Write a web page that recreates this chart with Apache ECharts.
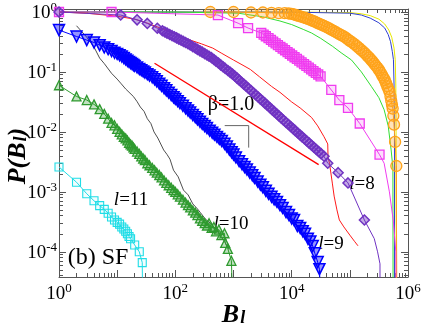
<!DOCTYPE html>
<html><head><meta charset="utf-8">
<script src="https://cdn.jsdelivr.net/npm/echarts@6/dist/echarts.min.js"></script>
<style>html,body{margin:0;padding:0;background:#fff}#c{width:423px;height:327px}</style>
</head><body><div id="c"></div>
<script>
// ---- data: [B_l, P(B_l)] ----
const l11 = [[1,2.6e-3],[2,1.45e-3],[3,9.3e-4],[4,7.1e-4],[5,5.9e-4],[6,5.1e-4],[7,4.4e-4],[8,3.8e-4],[9,3.4e-4],[10,3.1e-4],[11,2.9e-4],[12,2.6e-4],[13,2.4e-4],[14,2.2e-4],[15,2.0e-4],[16,1.8e-4],[17,1.65e-4],[20,1.3e-4],[24,1.0e-4],[27,6.6e-5],[28,1e-6]];
const l10 = [[1,0.060],[2,0.039],[3,0.034],[4,0.0288],[5,0.024],[6,0.020],[7,0.0166],[8,0.0141],[9,0.0129],[10,0.0112],[11,0.0100],[12,0.0091],[13,0.0083],[14,0.0078],[15,0.0072],[16,0.0066],[17,0.0062],[18,0.0059],[19,0.0055],[20,0.0052],[22,0.0047],[24,0.0043],[26,0.0039],[28,0.0036],[30,0.0034],[33,0.0030],[36,0.00278],[40,0.00251],[44,0.00229],[48,0.00209],[53,0.00191],[58,0.00174],[64,0.00155],[70,0.00141],[77,0.00129],[85,0.00117],[93,0.00107],[100,0.00100],[110,0.00091],[120,0.00083],[135,0.00074],[150,0.00066],[165,0.0006],[180,0.00055],[200,0.00049],[220,0.00045],[240,0.00041],[265,0.00036],[290,0.00033],[320,0.0003],[350,0.000275],[380,0.0003],[420,0.00025],[460,0.00026],[500,0.00022],[560,0.000235],[620,0.00019],[700,0.000204],[720,0.000141],[800,0.000112],[920,0.0000708],[1050,1e-6]];
const blackLine = [[2,0.59],[3,0.38],[4,0.26],[5,0.17],[6,0.138],[8,0.095],[10,0.076],[11.5,0.065],[14,0.052],[19,0.039],[22,0.032],[25,0.026],[29,0.022],[33,0.0166],[38,0.0138],[43,0.010],[50,0.0079],[63,0.005],[72,0.0042],[81,0.0035],[93,0.0023],[112,0.00178],[138,0.00107],[166,0.00089],[200,0.00063],[240,0.00052],[270,0.00045],[330,0.00035],[400,0.0003],[480,0.00025],[560,0.0002],[700,0.00015],[830,0.00011]];
const l9 = [[1,0.50],[2,0.39],[3,0.34],[4,0.31],[5,0.28],[6,0.257],[7,0.24],[8,0.224],[9,0.209],[10,0.20],[11,0.19],[12,0.181],[13,0.171],[14,0.162],[15,0.154],[16,0.147],[17,0.141],[18,0.136],[19,0.130],[20,0.126],[22,0.119],[24,0.112],[26,0.107],[28,0.102],[30,0.0975],[33,0.0918],[36,0.0871],[40,0.0815],[44,0.0757],[48,0.0698],[53,0.0637],[58,0.0586],[64,0.0535],[70,0.0493],[77,0.0452],[85,0.0412],[93,0.0379],[100,0.0355],[110,0.0326],[120,0.0302],[135,0.0272],[150,0.0248],[165,0.0228],[180,0.0211],[200,0.0191],[220,0.0176],[240,0.0162],[265,0.0148],[290,0.0136],[320,0.0125],[350,0.0116],[390,0.0105],[430,0.0097],[470,0.0090],[520,0.00826],[570,0.00764],[630,0.00702],[700,0.00635],[770,0.00569],[850,0.00507],[930,0.00457],[1000,0.0042],[1100,0.00376],[1250,0.00325],[1400,0.00289],[1550,0.0026],[1700,0.00236],[1900,0.0021],[2100,0.00189],[2300,0.00171],[2600,0.00149],[2900,0.00132],[3200,0.00119],[3600,0.00104],[4000,0.00093],[4500,0.00083],[5000,0.00075],[5600,0.00068],[6300,0.0006],[7000,0.00054],[8000,0.00046],[9000,0.00041],[10000,0.00036],[11000,0.00034],[12500,0.00027],[14000,0.00025],[15500,0.00022],[17000,0.0002],[19000,0.000165],[21000,0.000149],[23000,0.000125],[25000,0.0000946],[28000,0.0000676],[30000,0.0000513],[36000,1e-6]];
const l8 = [[1,1],[11.5,0.89],[22,0.74],[33,0.645],[49,0.537],[60,0.486],[66,0.464],[72,0.444],[80,0.422],[88,0.403],[96,0.386],[105,0.370],[115,0.353],[126,0.338],[138,0.323],[150,0.310],[165,0.295],[180,0.281],[200,0.264],[220,0.251],[240,0.238],[265,0.225],[290,0.214],[320,0.202],[350,0.192],[380,0.183],[420,0.173],[460,0.161],[500,0.151],[550,0.141],[600,0.1315],[660,0.122],[720,0.1145],[800,0.1057],[880,0.0984],[960,0.092],[1050,0.0855],[1150,0.0789],[1260,0.0729],[1380,0.0673],[1500,0.0627],[1650,0.0578],[1800,0.0536],[2000,0.0489],[2200,0.045],[2400,0.0417],[2650,0.0382],[2900,0.0353],[3200,0.0324],[3500,0.0299],[3800,0.0278],[4200,0.0255],[4600,0.0235],[5000,0.0218],[5500,0.0201],[6000,0.0186],[6600,0.0171],[7200,0.0158],[8000,0.0144],[8800,0.0133],[9600,0.0123],[10500,0.0114],[11500,0.0105],[12600,0.0097],[13800,0.00895],[15000,0.00834],[16500,0.00768],[18000,0.00713],[20000,0.0065],[22000,0.006],[24000,0.00556],[26500,0.0051],[29000,0.00472],[32000,0.00434],[36000,0.00392],[41700,0.0030],[63000,0.00209],[93000,0.00141],[178000,0.000339]];
const l8Tail = [[178000,0.000339],[263000,0.000166],[300000,0.0001],[330000,0.000063],[331000,1e-6]];
const redLine = [[1,1],[3,0.955],[10,0.85],[20,0.76],[32,0.66],[50,0.56],[80,0.47],[126,0.39],[180,0.34],[280,0.295],[440,0.25],[630,0.204],[1000,0.158],[1400,0.132],[1950,0.11],[2800,0.083],[4500,0.0575],[6300,0.0457],[10000,0.0316],[14000,0.0251],[22000,0.0174],[28000,0.0126],[36000,0.0083],[41700,0.0063],[42200,0.0038],[44700,0.003],[50000,0.0014],[53700,0.00085],[60000,0.0005],[66000,0.00034],[79000,0.00026],[100000,0.00019],[120000,0.00015],[138000,0.000126]];
const magentaSq = [[1,1],[8,1],[540,0.89],[1200,0.65],[1780,0.54],[3000,0.447],[3300,0.419],[3600,0.394],[4000,0.366],[4400,0.342],[4800,0.321],[5300,0.30],[5800,0.281],[6400,0.262],[7000,0.246],[7700,0.23],[8500,0.214],[9300,0.201],[10200,0.188],[11200,0.176],[12300,0.165],[13500,0.154],[14800,0.1445],[16300,0.135],[17900,0.126],[19700,0.118],[21600,0.1106],[23700,0.1035],[26000,0.0968],[28600,0.0906],[31400,0.0847],[48000,0.0501],[66000,0.0339],[93000,0.0251],[148000,0.0138],[324000,0.00417]];
const magentaTail = [[324000,0.00417],[389000,0.003],[479000,0.001],[562000,0.000316],[617000,0.0001],[631000,1e-6]];
const orangeCirc = [[400,1],[1000,1],[2000,0.98],[3200,0.98],[4500,0.965],[6000,0.955],[7600,0.955],[8900,0.944],[10000,0.933],[11000,0.908],[12000,0.883],[13200,0.859],[14500,0.835],[16000,0.811],[17500,0.789],[19000,0.769],[21000,0.741],[23000,0.713],[25000,0.689],[27500,0.661],[30000,0.636],[33000,0.61],[36000,0.588],[40000,0.561],[44000,0.533],[48000,0.508],[53000,0.482],[58000,0.459],[64000,0.436],[70000,0.416],[77000,0.395],[85000,0.372],[93000,0.348],[100000,0.331],[110000,0.31],[120000,0.292],[132000,0.270],[145000,0.249],[158000,0.231],[172000,0.215],[185000,0.201],[200000,0.186],[215000,0.173],[230000,0.161],[245000,0.15],[262000,0.138],[280000,0.127],[300000,0.117],[320000,0.107],[340000,0.097],[360000,0.088],[380000,0.080],[400000,0.073],[420000,0.065],[440000,0.058],[460000,0.052],[480000,0.0468],[500000,0.039],[515000,0.033],[530000,0.0285],[545000,0.0245],[560000,0.0186],[575000,0.0132],[600000,0.0068],[630000,0.0027],[645000,1e-6]];
const greenLine = [[1,1],[100,0.998],[1200,0.955],[3160,0.832],[6300,0.708],[10000,0.617],[15800,0.513],[21900,0.447],[31600,0.363],[50100,0.269],[70800,0.209],[107000,0.158],[158000,0.1],[234000,0.0575],[316000,0.0372],[389000,0.0234],[457000,0.0126],[513000,0.005],[550000,0.0025],[556000,1e-6]];
const blueLine = [[1,1],[10000,0.995],[100000,0.955],[158000,0.89],[224000,0.79],[316000,0.66],[398000,0.54],[457000,0.42],[501000,0.32],[537000,0.22],[562000,0.16],[575000,0.063],[585000,0.01],[589000,1e-6]];
const yellowLine = [[1,1],[10000,0.998],[100000,0.977],[158000,0.933],[224000,0.87],[316000,0.76],[398000,0.63],[468000,0.5],[525000,0.38],[575000,0.25],[603000,0.16],[617000,0.063],[624000,0.01],[630000,1e-6]];
const betaLine = [[43.9,0.1396],[29100,0.00285]];
const slopeGuide = [[706,0.01274],[1824,0.01274],[1824,0.00547]];
const xMajorTicks = [1,10,100,1e3,1e4,1e5,1e6];
const xLabelTicks = [1,100,1e4,1e6];
const yMajorTicks = [1e-4,1e-3,1e-2,1e-1,1];

// ---- layout ----
const X_MIN = 1, X_MAX = 1e6, Y_MIN = Math.pow(10,-4.42), Y_MAX = Math.pow(10,0.05);
function minors(lo, hi){ const r=[]; for(let e=lo;e<=hi;e++){ for(let k=2;k<=9;k++){ r.push(k*Math.pow(10,e)); } } return r; }
const xMinor = minors(0,5), yMinor = minors(-5,-1);
const FRAME = '#555';
const SERIF = 'Liberation Serif';
const labelRich = {
  b:{fontFamily:SERIF,fontSize:19,color:'#000',lineHeight:22,verticalAlign:'bottom'},
  s:{fontFamily:SERIF,fontSize:13,color:'#000',lineHeight:12,verticalAlign:'top'}
};
function expFmt(v){ const e = Math.round(Math.log10(v)); return '{b|10}{s|'+e+'}'; }

function axisBase(extra){
  return Object.assign({type:'log',logBase:10,splitLine:{show:false},axisLine:{show:true,lineStyle:{color:FRAME,width:1}},axisLabel:{show:false},silent:true,nameMoveOverlap:false}, extra);
}
const titleRich = {b:{fontFamily:SERIF,fontWeight:'bold',fontStyle:'italic',fontSize:26,color:'#000'},s:{fontFamily:SERIF,fontWeight:'bold',fontStyle:'italic',fontSize:18,color:'#000',padding:[7,0,0,1]}};
const xAxes = [
  axisBase({gridIndex:0,position:'bottom',min:X_MIN,max:X_MAX,
    axisTick:{show:true,inside:true,length:7,customValues:xMajorTicks,lineStyle:{color:FRAME}},
    axisLabel:{show:true,customValues:xLabelTicks,formatter:expFmt,rich:labelRich,margin:5},
    name:'{b|B}{s|l}',nameLocation:'middle',nameGap:25,nameTextStyle:{rich:titleRich}}),
  axisBase({gridIndex:0,position:'top',min:X_MIN,max:X_MAX,
    axisTick:{show:true,inside:true,length:7,customValues:xMajorTicks,lineStyle:{color:FRAME}}}),
  axisBase({gridIndex:1,position:'bottom',min:X_MIN,max:X_MAX,axisLine:{show:false},
    axisTick:{show:true,inside:true,length:4,customValues:xMinor,lineStyle:{color:FRAME}}}),
  axisBase({gridIndex:1,position:'top',min:X_MIN,max:X_MAX,axisLine:{show:false},
    axisTick:{show:true,inside:true,length:4,customValues:xMinor,lineStyle:{color:FRAME}}})
];
const yAxes = [
  axisBase({gridIndex:0,position:'left',min:Y_MIN,max:Y_MAX,
    axisTick:{show:true,inside:true,length:7,customValues:yMajorTicks,lineStyle:{color:FRAME}},
    axisLabel:{show:true,customValues:yMajorTicks,formatter:expFmt,rich:labelRich,margin:2},
    name:'{b|P(B}{s|l}{b|)}',nameLocation:'middle',nameGap:28,
    nameTextStyle:{padding:[0,26,0,0],rich:titleRich}}),
  axisBase({gridIndex:0,position:'right',min:Y_MIN,max:Y_MAX,
    axisTick:{show:true,inside:true,length:7,customValues:yMajorTicks,lineStyle:{color:FRAME}}}),
  axisBase({gridIndex:1,position:'left',min:Y_MIN,max:Y_MAX,axisLine:{show:false},
    axisTick:{show:true,inside:true,length:4,customValues:yMinor,lineStyle:{color:FRAME}}}),
  axisBase({gridIndex:1,position:'right',min:Y_MIN,max:Y_MAX,axisLine:{show:false},
    axisTick:{show:true,inside:true,length:4,customValues:yMinor,lineStyle:{color:FRAME}}})
];

function plain(data,color,width){
  return {type:'line',data:data,xAxisIndex:0,yAxisIndex:0,symbol:'none',silent:true,animation:false,
    lineStyle:{color:color,width:width||1},clip:true};
}
function marked(data,color,fill,symbol,size,rot,bw){
  return {type:'line',data:data,xAxisIndex:0,yAxisIndex:0,symbol:symbol,symbolSize:size,symbolRotate:rot||0,
    showSymbol:true,showAllSymbol:true,silent:true,animation:false,clip:true,
    itemStyle:{color:fill,borderColor:color,borderWidth:bw||1.3},
    lineStyle:{color:color,width:1}};
}
const C = {cyan:'#20dde6',green:'#2f9a2f',blue:'#0000ff',purple:'#7033c2',red:'#ff1a1a',magenta:'#f03cf0',lgreen:'#33dd33',orange:'#ffa31a',blue2:'#3040d0',yellow:'#e8e800'};
const F = {cyan:'rgba(32,221,230,0.06)',green:'rgba(47,154,47,0.3)',blue:'rgba(0,0,255,0.42)',purple:'rgba(112,51,194,0.42)',magenta:'rgba(240,60,240,0.18)',orange:'rgba(255,163,26,0.3)'};

const series = [
  plain(yellowLine,C.yellow),
  plain(blueLine,C.blue2),
  plain(greenLine,C.lgreen),
  marked(orangeCirc,C.orange,F.orange,'circle',11),
  plain(orangeCirc.slice(-2),C.orange),
  marked(magentaSq,C.magenta,F.magenta,'rect',9),
  plain(magentaTail,C.magenta),
  plain(redLine,C.red),
  marked(l8,C.purple,F.purple,'diamond',10,0,1.5),
  plain(l8Tail,C.purple),
  marked(l9,C.blue,F.blue,'triangle',11,180,1.5),
  plain(blackLine,'#222',0.8),
  marked(l10,C.green,F.green,'triangle',9),
  marked(l11,C.cyan,F.cyan,'rect',8,0,1.1),
  plain(betaLine,'#ff0000',1.3),
  plain(slopeGuide,'#666',1)
];

function lab(x,y,text,size){
  return {type:'text',x:x,y:y,silent:true,style:{text:text,textAlign:'center',textVerticalAlign:'middle',
    fontFamily:SERIF,fontSize:size,fill:'#000',
    rich:{i:{fontFamily:SERIF,fontStyle:'italic',fontSize:size,fill:'#000'}}}};
}
const chart = echarts.init(document.getElementById('c'),null,{renderer:'canvas'});
chart.setOption({
  animation:false,backgroundColor:'#fff',
  grid:[{left:59,right:15,top:9,bottom:50,containLabel:false,outerBoundsMode:'none'},
        {left:59,right:15,top:9,bottom:50,containLabel:false,outerBoundsMode:'none'}],
  xAxis:xAxes,yAxis:yAxes,series:series,
  graphic:[
    lab(231,105,'β=1.0',20),
    lab(362,184,'{i|l}=8',19),
    lab(331,244,'{i|l}=9',19),
    lab(231,224,'{i|l}=10',19),
    lab(131,200,'{i|l}=11',19),
    lab(98,258,'(b) SF',24)
  ]
});
</script></body></html>
